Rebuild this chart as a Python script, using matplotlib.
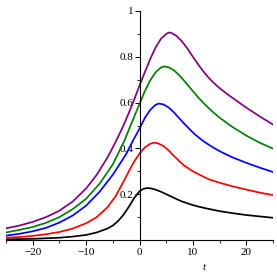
import matplotlib
matplotlib.use("Agg")
import matplotlib.pyplot as plt

# ---- data ----
t_black = [-25, -20, -15, -12.5, -10, -8, -6, -5, -4, -3, -2, -1, 0, 0.7, 1.4, 2.2, 3, 4, 5, 6, 7, 8, 9.5, 11, 12.5, 15, 17.5, 20, 22.5, 25]
y_black = [0.003, 0.005, 0.01, 0.015, 0.022, 0.033, 0.05, 0.063, 0.083, 0.11, 0.145, 0.183, 0.213, 0.223, 0.227, 0.225, 0.22, 0.211, 0.2, 0.189, 0.178, 0.168, 0.156, 0.146, 0.138, 0.126, 0.117, 0.109, 0.103, 0.097]

t_red = [-25, -22.5, -20, -17.5, -15, -12.5, -10, -8, -6, -4.5, -3, -2, -1, 0, 1, 2, 2.7, 3.5, 4.5, 5.5, 6.5, 7.5, 8.5, 10, 11.5, 13, 15, 17.5, 20, 22.5, 25]
y_red = [0.01, 0.013, 0.018, 0.025, 0.035, 0.05, 0.073, 0.1, 0.143, 0.19, 0.255, 0.3, 0.343, 0.377, 0.404, 0.42, 0.425, 0.422, 0.41, 0.39, 0.366, 0.343, 0.323, 0.3, 0.282, 0.265, 0.25, 0.234, 0.22, 0.207, 0.196]

t_blue = [-25, -22.5, -20, -17.5, -15, -12.5, -10, -7.5, -5, -2.5, -1.2, 0, 1, 2, 3, 3.6, 4.5, 5.5, 6.5, 7.5, 8.5, 9.5, 10.5, 11.5, 12.5, 14, 15.5, 17.5, 20, 22.5, 25]
y_blue = [0.019, 0.027, 0.038, 0.053, 0.076, 0.107, 0.15, 0.21, 0.285, 0.375, 0.435, 0.486, 0.533, 0.568, 0.59, 0.596, 0.592, 0.578, 0.556, 0.53, 0.505, 0.481, 0.459, 0.44, 0.423, 0.401, 0.382, 0.36, 0.337, 0.316, 0.297]

t_green = [-25, -22.5, -20, -17.5, -15, -12.5, -10, -7.5, -5, -2.8, -1.5, 0, 1, 2, 3, 4, 4.6, 5.5, 6.5, 7.5, 8.5, 9.5, 10.5, 11.5, 12.5, 13.5, 15, 17.5, 20, 22.5, 25]
y_green = [0.033, 0.044, 0.057, 0.075, 0.1, 0.135, 0.18, 0.245, 0.33, 0.435, 0.51, 0.594, 0.65, 0.697, 0.732, 0.753, 0.758, 0.754, 0.74, 0.718, 0.692, 0.664, 0.636, 0.61, 0.586, 0.564, 0.534, 0.492, 0.456, 0.425, 0.399]

t_purple = [-25, -22.5, -20, -17.5, -15, -12.5, -10, -8, -6, -4.5, -3, -1.5, 0, 1, 2, 3, 4, 5, 5.5, 6, 7, 8, 9, 10, 11, 12, 13, 14, 15, 16.5, 18, 20, 22.5, 25]
y_purple = [0.051, 0.063, 0.079, 0.1, 0.128, 0.168, 0.225, 0.285, 0.36, 0.427, 0.5, 0.583, 0.674, 0.733, 0.79, 0.84, 0.878, 0.9, 0.906, 0.904, 0.89, 0.866, 0.835, 0.80, 0.766, 0.735, 0.707, 0.684, 0.663, 0.636, 0.611, 0.578, 0.54, 0.504]

series = [
    (t_black, y_black, "#000000"),
    (t_red, y_red, "#ff0000"),
    (t_blue, y_blue, "#0000ff"),
    (t_green, y_green, "#008000"),
    (t_purple, y_purple, "#800080"),
]

x_major = [-20, -10, 0, 10, 20]
x_minor = [-25, -15, -5, 5, 15, 25]
y_major = [0.2, 0.4, 0.6, 0.8, 1.0]
y_major_labels = ["0.2", "0.4", "0.6", "0.8", "1"]
y_minor = [0.1, 0.3, 0.5, 0.7, 0.9]

plt.rcParams["font.family"] = ["Liberation Serif", "DejaVu Serif"]

fig = plt.figure(figsize=(2.77, 2.77), dpi=100)
ax = fig.add_axes([6 / 277, 1 - 240 / 277, 267 / 277, 229 / 277])

for tt, yy, c in series:
    ax.plot(tt, yy, color=c, lw=1.25, solid_joinstyle="round")

ax.set_xlim(-25, 25)
ax.set_ylim(0, 1)

ax.spines["left"].set_position(("data", 0))
ax.spines["bottom"].set_position(("data", 0))
ax.spines["right"].set_visible(False)
ax.spines["top"].set_visible(False)
for s in ("left", "bottom"):
    ax.spines[s].set_linewidth(0.8)

ax.set_xticks(x_major)
ax.set_xticklabels(["\u221220", "\u221210", "0", "10", "20"])
ax.set_xticks(x_minor, minor=True)
ax.set_yticks(y_major)
ax.set_yticklabels(y_major_labels)
ax.set_yticks(y_minor, minor=True)

ax.tick_params(axis="both", which="major", length=3.5, width=0.7, labelsize=8, pad=2.5, direction="out")
ax.tick_params(axis="both", which="minor", length=2.5, width=0.6, direction="out")
ax.tick_params(axis="y", which="major", pad=1)

ax.annotate("t", xy=(12, -0.118), xycoords=("data", "axes fraction"),
            fontsize=8, style="italic", ha="center", va="center")

ax.patch.set_visible(False)
fig.savefig("out.png", dpi=100)
